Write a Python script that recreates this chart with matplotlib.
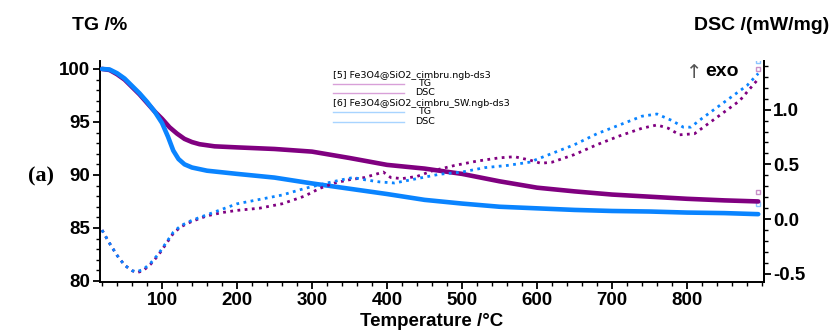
import matplotlib
matplotlib.use("Agg")
import matplotlib.pyplot as plt
from matplotlib.lines import Line2D
from matplotlib.ticker import FixedLocator, MultipleLocator, FormatStrFormatter
import matplotlib.transforms as mtransforms

plt.rcParams['font.family'] = ['Liberation Sans', 'DejaVu Sans']

# TG sample [5] (purple)
tg5_t = [20, 30, 40, 50, 60, 70, 80, 90, 100, 110, 120, 130, 140, 150, 170, 200, 250, 300,
         350, 400, 450, 500, 550, 600, 650, 700, 750, 800, 850, 895]
tg5_v = [100.0, 99.9, 99.5, 99.0, 98.3, 97.6, 96.8, 96.0, 95.3, 94.5, 93.9, 93.4, 93.1, 92.9,
         92.7, 92.6, 92.45, 92.2, 91.6, 90.95, 90.6, 90.1, 89.4, 88.8, 88.45, 88.15, 87.95,
         87.75, 87.6, 87.5]

# TG sample [6] (blue)
tg6_t = [20, 30, 40, 50, 60, 70, 80, 90, 100, 108, 115, 122, 130, 140, 160, 200, 250, 300,
         350, 400, 450, 500, 550, 600, 650, 700, 750, 800, 850, 895]
tg6_v = [100.0, 99.95, 99.6, 99.1, 98.4, 97.7, 96.9, 96.0, 94.9, 93.6, 92.3, 91.5, 91.0,
         90.7, 90.4, 90.1, 89.75, 89.2, 88.7, 88.2, 87.65, 87.3, 87.0, 86.85, 86.7, 86.6,
         86.55, 86.45, 86.4, 86.3]

# DSC sample [5] (purple)
dsc5_t = [20, 30, 40, 50, 60, 66, 75, 85, 95, 105, 115, 125, 140, 160, 180, 200, 230, 260,
          290, 310, 330, 350, 370, 385, 395, 405, 420, 440, 460, 490, 520, 550, 570, 590,
          605, 620, 650, 680, 710, 740, 760, 775, 790, 810, 830, 850, 870, 895]
dsc5_v = [-0.10, -0.22, -0.33, -0.42, -0.47, -0.49, -0.47, -0.41, -0.33, -0.23, -0.13,
          -0.07, -0.02, 0.03, 0.06, 0.08, 0.10, 0.14, 0.21, 0.28, 0.33, 0.36, 0.38, 0.41,
          0.43, 0.38, 0.37, 0.39, 0.44, 0.49, 0.53, 0.56, 0.57, 0.54, 0.51, 0.52, 0.59,
          0.68, 0.76, 0.83, 0.86, 0.83, 0.77, 0.78, 0.88, 0.98, 1.08, 1.28]

# DSC sample [6] (blue)
dsc6_t = [20, 30, 40, 50, 60, 66, 75, 85, 95, 105, 115, 125, 140, 160, 180, 200, 230, 260,
          290, 320, 340, 355, 370, 390, 410, 440, 470, 500, 530, 560, 590, 620, 650, 680,
          710, 740, 760, 780, 795, 805, 820, 840, 860, 880, 895]
dsc6_v = [-0.10, -0.22, -0.33, -0.42, -0.47, -0.48, -0.46, -0.40, -0.32, -0.22, -0.12,
          -0.06, -0.01, 0.04, 0.09, 0.14, 0.18, 0.22, 0.28, 0.33, 0.36, 0.38, 0.36, 0.34,
          0.33, 0.37, 0.41, 0.43, 0.47, 0.49, 0.52, 0.60, 0.68, 0.78, 0.86, 0.94, 0.96,
          0.90, 0.84, 0.84, 0.92, 1.02, 1.12, 1.22, 1.33]

x_ticks = [100, 200, 300, 400, 500, 600, 700, 800]

purple = "#800080"
blue = "#0a84ff"
dotted = (0, (1.0, 1.6))

fig = plt.figure(figsize=(8.31, 3.30), dpi=100)
ax = fig.add_axes([100 / 831, 48 / 330, 663.5 / 831, 221 / 330])
ax2 = ax.twinx()

ax.plot(tg5_t, tg5_v, color=purple, lw=3.3, solid_capstyle="round", zorder=3)
ax.plot(tg6_t, tg6_v, color=blue, lw=3.3, solid_capstyle="round", zorder=3)
ax2.plot(dsc5_t, dsc5_v, color=purple, lw=2.0, linestyle=dotted)
ax2.plot(dsc6_t, dsc6_v, color=blue, lw=2.0, linestyle=dotted)

# small end markers
for a, t, v, c, dy in ((ax, tg5_t, tg5_v, "#c890c8", 7), (ax, tg6_t, tg6_v, "#8cc4ff", 7),
                       (ax2, dsc5_t, dsc5_v, "#c890c8", 7), (ax2, dsc6_t, dsc6_v, "#8cc4ff", 9)):
    off = mtransforms.offset_copy(a.transData, fig=fig, x=0, y=dy, units="points")
    a.plot([t[-1]], [v[-1]], marker="s", ms=3.2, mfc="none", mec=c, mew=1.0, transform=off)

ax.set_xlim(17.3, 902)
ax.set_ylim(79.9, 100.75)
ax2.set_ylim(-0.574, 1.444)

for a in (ax, ax2):
    a.spines["top"].set_visible(False)
    for s in a.spines.values():
        s.set_linewidth(1.4)
ax2.spines["left"].set_visible(False)
ax2.spines["bottom"].set_visible(False)

ax.xaxis.set_major_locator(FixedLocator(x_ticks))
ax.xaxis.set_minor_locator(MultipleLocator(20))
ax.yaxis.set_major_locator(MultipleLocator(5))
ax.yaxis.set_minor_locator(MultipleLocator(1))
ax2.yaxis.set_major_locator(MultipleLocator(0.5))
ax2.yaxis.set_minor_locator(MultipleLocator(0.1))
ax2.yaxis.set_major_formatter(FormatStrFormatter("%.1f"))

for a in (ax, ax2):
    a.tick_params(which="major", direction="out", length=5, width=1.3, labelsize=13.5, pad=2)
    a.tick_params(which="minor", direction="out", length=3, width=1.0)
    for lbl in a.get_xticklabels() + a.get_yticklabels():
        lbl.set_fontweight("bold")

ax.set_xlabel("Temperature /°C", fontsize=13.5, fontweight="bold", labelpad=3)

fig.text(100 / 831, 1 - 26 / 330, "TG /%", ha="center", va="center",
         fontsize=14, fontweight="bold")
fig.text(829 / 831, 1 - 26 / 330, "DSC /(mW/mg)", ha="right", va="center",
         fontsize=14, fontweight="bold")
fig.text(41 / 831, 1 - 176 / 330, "(a)", ha="center", va="center", fontsize=16,
         fontweight="bold", family=["Liberation Serif", "DejaVu Serif"])
fig.text(694 / 831, 1 - 72 / 330, "↑", ha="center", va="center", fontsize=14,
         color="#555555", family=["DejaVu Sans"])
fig.text(705 / 831, 1 - 71 / 330, "exo", ha="left", va="center", fontsize=14,
         fontweight="bold")

# legend block
leg_font = 6.8
leg_family = ["DejaVu Sans"]
fig.text(333 / 831, 1 - 76 / 330, "[5] Fe3O4@SiO2_cimbru.ngb-ds3", ha="left", va="center",
         fontsize=leg_font, family=leg_family)
fig.text(333 / 831, 1 - 104 / 330, "[6] Fe3O4@SiO2_cimbru_SW.ngb-ds3", ha="left",
         va="center", fontsize=leg_font, family=leg_family)
for y, lab, c in ((84, "TG", "#d8a0d8"), (93, "DSC", "#d8a0d8"),
                  (112, "TG", "#a8d4ff"), (122, "DSC", "#a8d4ff")):
    fig.add_artist(Line2D([333 / 831, 404 / 831], [1 - y / 330, 1 - y / 330],
                          color=c, lw=1.0))
    fig.text(425 / 831, 1 - y / 330, lab, ha="center", va="center", fontsize=leg_font,
             family=leg_family)

fig.savefig("out.png", dpi=100)
